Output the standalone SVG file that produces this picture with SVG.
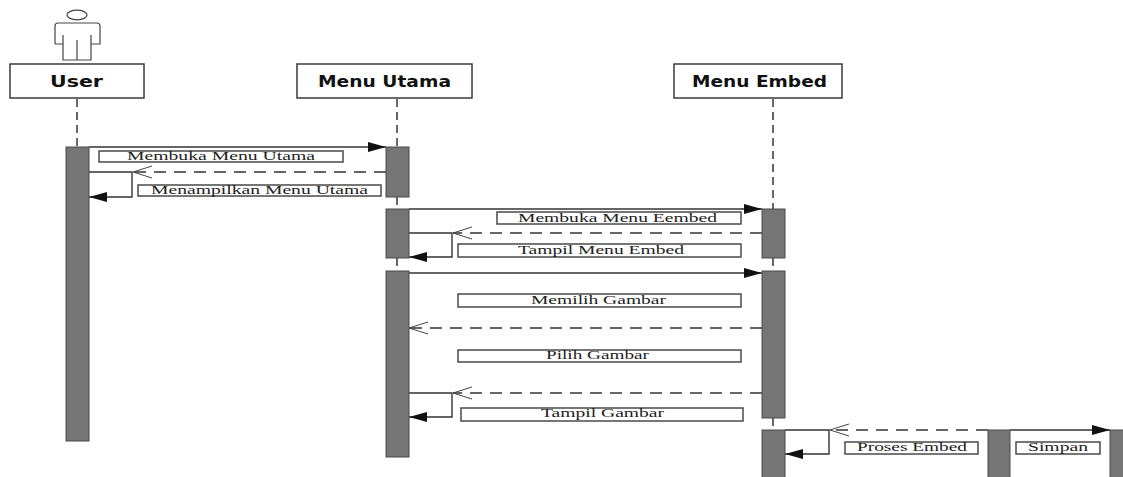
<svg xmlns="http://www.w3.org/2000/svg" width="1123" height="477" viewBox="0 0 1123 477">
<style>
.head{fill:#fff;stroke:#3a3a3a;stroke-width:1.500}
.lab{fill:#fff;stroke:#4a4a4a;stroke-width:1.500}
.bar{fill:#757575;stroke:#4a4a4a;stroke-width:1}
.life{fill:none;stroke:#666;stroke-width:2;stroke-dasharray:8 5}
.sola{fill:none;stroke:#333;stroke-width:1.400;marker-end:url(#fa)}
.das{fill:none;stroke:#333;stroke-width:1.300;stroke-dasharray:12 8}
.t{font-family:"Liberation Serif",serif;font-size:13px;fill:#222}
.h{font-family:"DejaVu Sans",sans-serif;font-weight:700;font-size:15px;fill:#111}
</style>
<defs>
<marker id="fa" markerUnits="userSpaceOnUse" markerWidth="20" markerHeight="12" refX="18" refY="5" orient="auto"><path d="M0 0L18 5L0 10Z" fill="#111"/></marker>
<marker id="oa" markerUnits="userSpaceOnUse" markerWidth="22" markerHeight="16" refX="19" refY="6.500" orient="auto"><path d="M0 0.500L19 6.500L0 12.500" fill="none" stroke="#444" stroke-width="1"/></marker>
</defs>
<g id="actor-user" fill="none" stroke="#444" stroke-width="1.200">
<ellipse cx="77" cy="15" rx="10" ry="4.800"/>
<path d="M55 44V26Q55 23 58 23H97Q100 23 100 26V44H91V35M91 44V60H63V44M63 35V44H55M77 40V60"/>
</g>
<g id="connectors">
<path class="life" d="M77 99V147M397 99V147M397 197V209M397 258V270M773 99V209M773 258V270M773 418V430"/>
<path class="sola" d="M89 147H386"/>
<path class="das" d="M386 172H133" marker-end="url(#oa)"/>
<path class="sola" d="M89 172H132V197H89"/>
<path class="sola" d="M409 209H762"/>
<path class="das" d="M762 233H453" marker-end="url(#oa)"/>
<path class="sola" d="M409 233H452V257H409"/>
<path class="sola" d="M409 273H762"/>
<path class="das" d="M762 328H409" marker-end="url(#oa)"/>
<path class="das" d="M762 393H453" marker-end="url(#oa)"/>
<path class="sola" d="M409 393H452V417H409"/>
<path class="das" d="M988 430H830" marker-end="url(#oa)"/>
<path class="sola" d="M785 430H829V454H785"/>
<path class="sola" d="M1010 430H1110"/>
</g>
<g id="user"><rect class="head" x="10" y="64" width="134" height="34"/><text class="h" x="50" y="87" textLength="53" lengthAdjust="spacingAndGlyphs">User</text></g>
<g id="menu-utama"><rect class="head" x="297" y="64" width="175" height="34"/><text class="h" x="318" y="87" textLength="133" lengthAdjust="spacingAndGlyphs">Menu Utama</text></g>
<g id="menu-embed"><rect class="head" x="674" y="64" width="168" height="34"/><text class="h" x="692" y="87" textLength="135" lengthAdjust="spacingAndGlyphs">Menu Embed</text></g>
<g id="activations">
<rect class="bar" x="66" y="147" width="23" height="294"/>
<rect class="bar" x="386" y="147" width="23" height="50"/>
<rect class="bar" x="386" y="209" width="23" height="49"/>
<rect class="bar" x="386" y="271" width="23" height="186"/>
<rect class="bar" x="762" y="209" width="23" height="49"/>
<rect class="bar" x="762" y="271" width="23" height="147"/>
<rect class="bar" x="762" y="430" width="23" height="48"/>
<rect class="bar" x="988" y="430" width="22" height="48"/>
<rect class="bar" x="1110" y="430" width="14" height="48"/>
</g>
<g id="label-membuka-menu-utama"><rect class="lab" x="99" y="151" width="244" height="11"/><text class="t" x="127" y="160" textLength="188" lengthAdjust="spacingAndGlyphs">Membuka Menu Utama</text></g>
<g id="label-menampilkan-menu-utama"><rect class="lab" x="138" y="185" width="243" height="11"/><text class="t" x="151" y="194" textLength="217" lengthAdjust="spacingAndGlyphs">Menampilkan Menu Utama</text></g>
<g id="label-membuka-menu-eembed"><rect class="lab" x="497" y="212" width="244" height="12"/><text class="t" x="518" y="222" textLength="199" lengthAdjust="spacingAndGlyphs">Membuka Menu Eembed</text></g>
<g id="label-tampil-menu-embed"><rect class="lab" x="458" y="244" width="283" height="13"/><text class="t" x="518" y="254" textLength="166" lengthAdjust="spacingAndGlyphs">Tampil Menu Embed</text></g>
<g id="label-memilih-gambar"><rect class="lab" x="458" y="294" width="283" height="13"/><text class="t" x="531" y="304" textLength="135" lengthAdjust="spacingAndGlyphs">Memilih Gambar</text></g>
<g id="label-pilih-gambar"><rect class="lab" x="458" y="350" width="283" height="12"/><text class="t" x="546" y="359" textLength="103" lengthAdjust="spacingAndGlyphs">Pilih Gambar</text></g>
<g id="label-tampil-gambar"><rect class="lab" x="461" y="408" width="282" height="13"/><text class="t" x="541" y="417" textLength="123" lengthAdjust="spacingAndGlyphs">Tampil Gambar</text></g>
<g id="label-proses-embed"><rect class="lab" x="845" y="442" width="133" height="12"/><text class="t" x="857" y="451" textLength="110" lengthAdjust="spacingAndGlyphs">Proses Embed</text></g>
<g id="label-simpan"><rect class="lab" x="1016" y="442" width="84" height="12"/><text class="t" x="1028" y="451" textLength="60" lengthAdjust="spacingAndGlyphs">Simpan</text></g>
</svg>
